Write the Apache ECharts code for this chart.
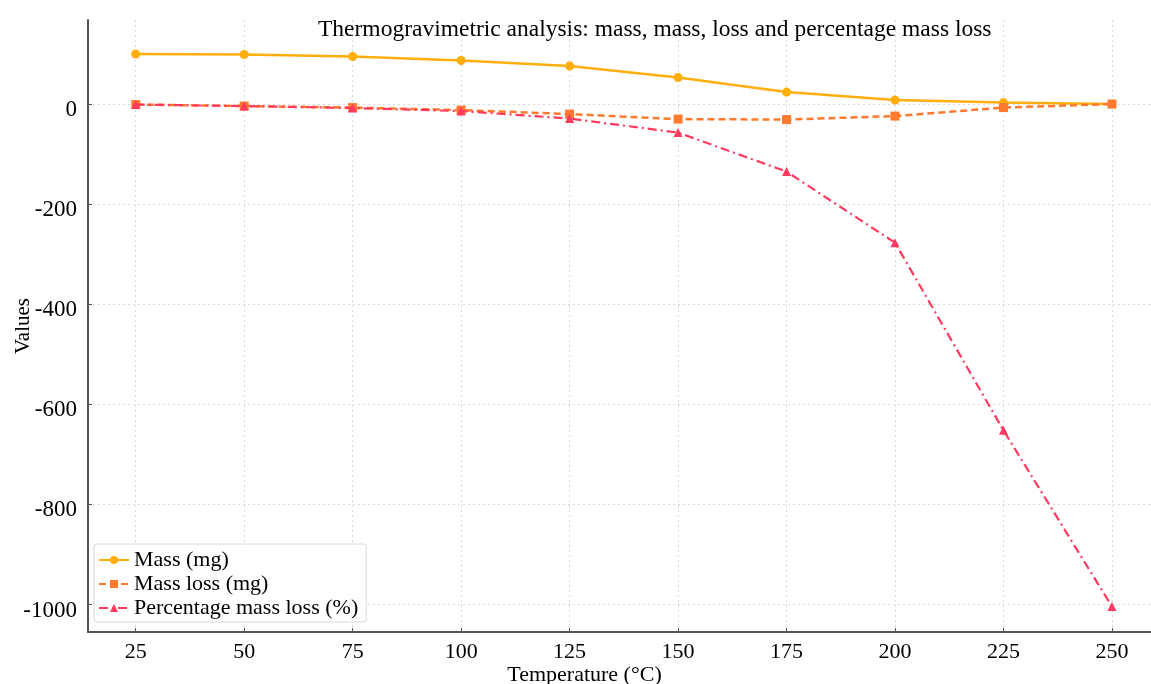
<!DOCTYPE html>
<html>
<head>
<meta charset="utf-8">
<title>Thermogravimetric analysis</title>
<script src="https://cdn.jsdelivr.net/npm/echarts@6/dist/echarts.min.js"></script>
<style>
  html, body { margin: 0; padding: 0; background: #fff; }
  #chart { width: 1151px; height: 684px; }
</style>
</head>
<body>
<div id="chart"></div>
<script>
// temperatures (°C)
const temperatures = [25, 50, 75, 100, 125, 150, 175, 200, 225, 250]
// series values
const massMg = [100, 99, 95, 87, 76, 53, 24, 8, 3, 0]
const massLossMg = [-1, -4, -7, -12, -20, -30, -31, -24, -7, 0]
const percentMassLoss = [-1, -4, -8, -14, -29, -57, -135, -277, -652, -1004]
// tick labels
const xTicks = [25, 50, 75, 100, 125, 150, 175, 200, 225, 250]
const yTicks = [-1000, -800, -600, -400, -200, 0]

const serif = '"Liberation Serif", "DejaVu Serif", serif'

function pairs (vals) {
  return temperatures.map((t, i) => [t, vals[i]])
}

const chart = echarts.init(document.getElementById('chart'))
const option = {
  animation: false,
  title: {
    text: 'Thermogravimetric analysis: mass, mass, loss and percentage mass loss',
    left: 313,
    top: 13,
    textStyle: { fontFamily: serif, fontSize: 23.5, fontWeight: 'normal', color: '#000' }
  },
  legend: {
    orient: 'vertical',
    left: 94,
    top: 544,
    itemWidth: 30,
    itemHeight: 10,
    itemGap: 2,
    padding: [5, 8, 3, 4],
    borderColor: '#d8d8d8',
    borderWidth: 1,
    borderRadius: 3,
    backgroundColor: 'rgba(255,255,255,0.85)',
    textStyle: { fontFamily: serif, fontSize: 22, color: '#000' },
    data: ['Mass (mg)', 'Mass loss (mg)', 'Percentage mass loss (%)']
  },
  grid: {
    left: 88,
    right: 0,
    top: 20,
    bottom: 52,
    outerBoundsMode: 'none',
    containLabel: false
  },
  xAxis: {
    type: 'value',
    min: 14,
    max: 259,
    name: 'Temperature (°C)',
    nameLocation: 'middle',
    nameGap: 32,
    nameMoveOverlap: false,
    nameTextStyle: { fontFamily: serif, fontSize: 22, color: '#000', padding: [0, 70, 0, 0] },
    axisLine: { show: true, onZero: false, lineStyle: { color: '#555', width: 2 } },
    axisTick: { show: true, inside: true, length: 4, customValues: xTicks, lineStyle: { color: '#555' } },
    axisLabel: { customValues: xTicks, fontFamily: serif, fontSize: 22, color: '#000', margin: 9 },
    splitLine: { show: true, lineStyle: { color: '#d9d9d9', type: [2, 3] } }
  },
  yAxis: {
    type: 'value',
    min: -1055,
    max: 168,
    name: 'Values',
    nameLocation: 'middle',
    nameGap: 54,
    nameMoveOverlap: false,
    nameTextStyle: { fontFamily: serif, fontSize: 21, color: '#000' },
    axisLine: { show: true, onZero: false, lineStyle: { color: '#555', width: 2 } },
    axisTick: { show: true, inside: true, length: 4, customValues: yTicks, lineStyle: { color: '#555' } },
    axisLabel: {
      customValues: yTicks,
      formatter: v => String(v),
      fontFamily: serif,
      fontSize: 23,
      color: '#000',
      margin: 11,
      verticalAlign: 'top',
      lineHeight: 12
    },
    splitLine: { show: true, lineStyle: { color: '#d9d9d9', type: [2, 3] } }
  },
  series: [
    {
      name: 'Mass (mg)',
      type: 'line',
      data: pairs(massMg),
      symbol: 'circle',
      symbolSize: 9,
      z: 3,
      itemStyle: { color: '#FFAE0C' },
      lineStyle: { color: '#FFAE0C', width: 2.5 }
    },
    {
      name: 'Mass loss (mg)',
      type: 'line',
      data: pairs(massLossMg),
      symbol: 'rect',
      symbolSize: 9,
      z: 4,
      itemStyle: { color: '#FF7A2E' },
      lineStyle: { color: '#FF7A2E', width: 2.5, type: [7, 4] }
    },
    {
      name: 'Percentage mass loss (%)',
      type: 'line',
      data: pairs(percentMassLoss),
      symbol: 'triangle',
      symbolSize: 9,
      z: 5,
      itemStyle: { color: '#FF3A5E' },
      lineStyle: { color: '#FF3A5E', width: 2.2, type: [9, 4, 2, 4] }
    }
  ]
}
chart.setOption(option)
</script>
</body>
</html>
